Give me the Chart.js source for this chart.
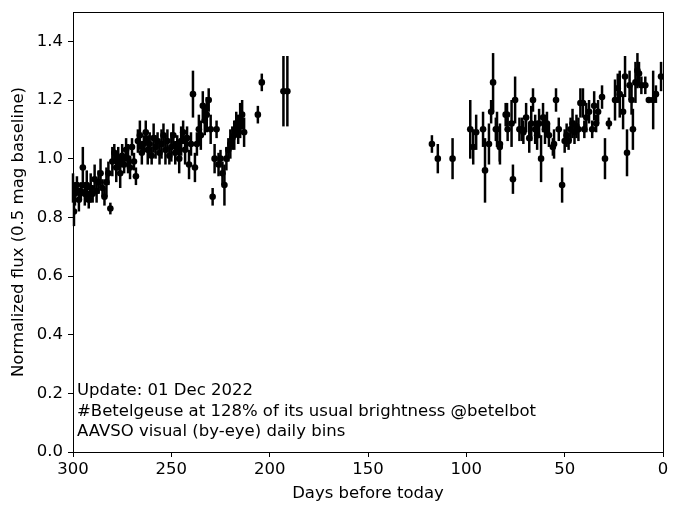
<!DOCTYPE html>
<html>
<head>
<meta charset="utf-8">
<script src="https://cdn.jsdelivr.net/npm/chart.js@4/dist/chart.umd.min.js"></script>
<style>
  body { margin: 0; background: #fff; }
  canvas { display: block; }
</style>
</head>
<body>
<canvas id="myChart" width="680" height="515"></canvas>
<script>
// days before today, normalized flux, error
var days = [300, 299.5, 299, 298, 297, 296, 295, 294, 293, 292, 291, 290, 289, 288, 287, 286, 285, 284, 283, 282, 281,
  280, 279, 278, 277, 276, 275, 274, 273, 272, 271, 270, 269, 268, 267, 266, 265, 264, 263, 262, 261, 260,
  259, 258, 257, 256, 255, 254, 253, 252, 251, 250, 249, 248, 247, 246, 245, 244, 243, 242, 241, 240,
  239, 238, 237, 236, 235, 234, 233, 232, 231, 230, 229, 228, 227, 226, 225, 224, 223, 222, 221, 220,
  219, 218, 217, 216, 215, 214, 213, 206, 204, 193, 191,
  117.5, 114.5, 107, 98, 96.5, 95, 91.5, 90.5, 88.5, 87.4, 86.4, 85, 84.4, 83, 82.9, 80, 79.3, 79, 77, 76.3, 75.2,
  73, 71.7, 71, 69.6, 68, 67, 66.1, 65, 64, 63, 62, 61, 60, 59, 58, 56, 55.4, 54.4, 53, 51.3, 50, 49, 48, 47, 46,
  45, 44, 43, 42, 40.7, 40, 39, 37.6, 36, 35, 34, 33, 31, 29.5, 27.5, 24.4, 23, 22, 20.3, 19.3, 18.3, 17, 16,
  15.3, 14, 13, 12.2, 11, 9, 7.2, 5, 3.6, 1];
var flux = [0.90, 0.82, 0.88, 0.91, 0.86, 0.89, 0.97, 0.88, 0.91, 0.86, 0.90, 0.88, 0.93, 0.89, 0.92, 0.95, 0.90, 0.87, 0.92, 0.95, 0.83,
  0.99, 1.02, 0.97, 1.00, 0.95, 1.01, 0.98, 1.03, 1.00, 0.97, 1.04, 0.99, 0.94, 1.06, 1.08, 1.02, 1.05, 1.09, 1.03, 1.05, 1.01,
  1.07, 1.04, 1.06, 1.02, 1.05, 1.08, 1.03, 1.06, 1.01, 1.04, 1.08, 1.02, 1.05, 1.00, 1.06, 1.09, 1.03, 1.07, 0.98, 1.05,
  1.22, 0.97, 1.05, 1.10, 1.08, 1.18, 1.13, 1.15, 1.20, 1.10, 0.87, 1.00, 1.10, 0.98, 1.00, 0.95, 0.91, 1.00, 1.03, 1.05,
  1.07, 1.08, 1.12, 1.10, 1.13, 1.15, 1.09, 1.15, 1.26, 1.23, 1.23,
  1.05, 1.00, 1.00, 1.10, 1.04, 1.09, 1.10, 0.96, 1.05, 1.16, 1.26, 1.10, 1.10, 1.04, 1.05, 1.15, 1.15, 1.10, 1.12, 0.93, 1.20,
  1.10, 1.10, 1.09, 1.14, 1.07, 1.12, 1.20, 1.10, 1.08, 1.12, 1.00, 1.14, 1.10, 1.12, 1.08, 1.04, 1.05, 1.20, 1.10, 0.91, 1.06, 1.08, 1.06, 1.10, 1.12,
  1.09, 1.11, 1.10, 1.19, 1.19, 1.10, 1.14, 1.16, 1.10, 1.18, 1.12, 1.16, 1.21, 1.00, 1.12, 1.20, 1.24, 1.22, 1.16, 1.28, 1.02, 1.25, 1.20,
  1.10, 1.26, 1.30, 1.29, 1.25, 1.25, 1.20, 1.20, 1.22, 1.28];
var err = [0.05, 0.05, 0.04, 0.03, 0.04, 0.03, 0.07, 0.04, 0.05, 0.03, 0.05, 0.03, 0.05, 0.04, 0.04, 0.05, 0.03, 0.03, 0.05, 0.04, 0.02,
  0.05, 0.03, 0.05, 0.04, 0.05, 0.04, 0.03, 0.04, 0.05, 0.04, 0.03, 0.03, 0.03, 0.04, 0.05, 0.04, 0.03, 0.04, 0.05, 0.04, 0.03,
  0.05, 0.04, 0.03, 0.04, 0.05, 0.04, 0.05, 0.04, 0.03, 0.05, 0.04, 0.04, 0.03, 0.05, 0.05, 0.04, 0.05, 0.04, 0.05, 0.04,
  0.08, 0.05, 0.04, 0.05, 0.05, 0.05, 0.05, 0.06, 0.04, 0.05, 0.03, 0.05, 0.03, 0.04, 0.03, 0.04, 0.07, 0.04, 0.04, 0.05,
  0.04, 0.05, 0.04, 0.05, 0.06, 0.05, 0.05, 0.03, 0.03, 0.12, 0.12,
  0.03, 0.05, 0.07, 0.10, 0.06, 0.06, 0.06, 0.11, 0.07, 0.04, 0.10, 0.04, 0.06, 0.05, 0.07, 0.04, 0.04, 0.04, 0.08, 0.05, 0.08,
  0.04, 0.04, 0.04, 0.05, 0.05, 0.06, 0.04, 0.05, 0.05, 0.05, 0.08, 0.05, 0.05, 0.04, 0.04, 0.03, 0.05, 0.04, 0.04, 0.06, 0.04, 0.04, 0.03, 0.04, 0.05,
  0.04, 0.04, 0.04, 0.05, 0.05, 0.03, 0.05, 0.04, 0.03, 0.05, 0.03, 0.04, 0.04, 0.07, 0.02, 0.07, 0.05, 0.08, 0.06, 0.07, 0.08, 0.05, 0.05,
  0.07, 0.07, 0.06, 0.04, 0.03, 0.03, 0.01, 0.10, 0.03, 0.05];
var xTicks = [0, 50, 100, 150, 200, 250, 300];
var yTicks = [0.0, 0.2, 0.4, 0.6, 0.8, 1.0, 1.2, 1.4];
var noteLines = ['Update: 01 Dec 2022', '#Betelgeuse at 128% of its usual brightness @betelbot', 'AAVSO visual (by-eye) daily bins'];

var FONT = 'DejaVu Sans';
var FS = 16.5;

var errorBars = {
  id: 'errorBars',
  beforeDatasetsDraw: function(chart) {
    var ctx = chart.ctx, xs = chart.scales.x, ys = chart.scales.y;
    ctx.save();
    ctx.strokeStyle = '#000';
    ctx.lineWidth = 2.5;
    for (var i = 0; i < days.length; i++) {
      var px = xs.getPixelForValue(days[i]);
      ctx.beginPath();
      ctx.moveTo(px, ys.getPixelForValue(flux[i] - err[i]));
      ctx.lineTo(px, ys.getPixelForValue(flux[i] + err[i]));
      ctx.stroke();
    }
    ctx.restore();
  },
  afterDraw: function(chart) {
    var ctx = chart.ctx, a = chart.chartArea;
    ctx.save();
    ctx.strokeStyle = '#000';
    ctx.lineWidth = 1;
    ctx.strokeRect(Math.round(a.left) + 0.5, Math.round(a.top) + 0.5, Math.round(a.right - a.left), Math.round(a.bottom - a.top));
    ctx.fillStyle = '#000';
    ctx.font = FS + 'px "' + FONT + '"';
    ctx.textBaseline = 'middle';
    for (var i = 0; i < noteLines.length; i++) {
      ctx.fillText(noteLines[i], a.left + 4, a.bottom - 61 + i * 20.5);
    }
    ctx.restore();
  }
};

var points = days.map(function(d, i) { return {x: d, y: flux[i]}; });

var ctx = document.getElementById('myChart').getContext('2d');
var chart = new Chart(ctx, {
  type: 'scatter',
  data: {
    datasets: [{
      data: points,
      backgroundColor: '#000',
      borderColor: '#000',
      pointRadius: 3.3,
      pointBorderWidth: 0
    }]
  },
  options: {
    responsive: false,
    animation: false,
    layout: { padding: { top: 12, right: 17, left: 0, bottom: 0 } },
    plugins: { legend: { display: false }, tooltip: { enabled: false } },
    scales: {
      x: {
        type: 'linear',
        reverse: true,
        min: 0,
        max: 300,
        afterBuildTicks: function(axis) { axis.ticks = xTicks.map(function(v) { return {value: v}; }); },
        afterFit: function(axis) { axis.height = 63; axis.paddingLeft = 0; axis.paddingRight = 0; },
        grid: { drawOnChartArea: false, color: '#000', tickLength: 5, tickWidth: 1 },
        border: { display: true, color: '#000' },
        ticks: { color: '#000', font: { family: FONT, size: FS }, padding: 3, maxRotation: 0 },
        title: { display: true, text: 'Days before today', color: '#000', font: { family: FONT, size: FS }, padding: { top: 0, bottom: 11 } }
      },
      y: {
        min: 0,
        max: 1.5,
        afterBuildTicks: function(axis) { axis.ticks = yTicks.map(function(v) { return {value: v}; }); },
        afterFit: function(axis) { axis.width = 73; axis.paddingTop = 0; axis.paddingBottom = 0; },
        grid: { drawOnChartArea: false, color: '#000', tickLength: 5, tickWidth: 1 },
        border: { display: true, color: '#000' },
        ticks: { color: '#000', font: { family: FONT, size: FS }, padding: 5, callback: function(v) { return v.toFixed(1); } },
        title: { display: true, text: 'Normalized flux (0.5 mag baseline)', color: '#000', font: { family: FONT, size: FS }, padding: { top: 9, bottom: 0 } }
      }
    }
  },
  plugins: [errorBars]
});
</script>
</body>
</html>
